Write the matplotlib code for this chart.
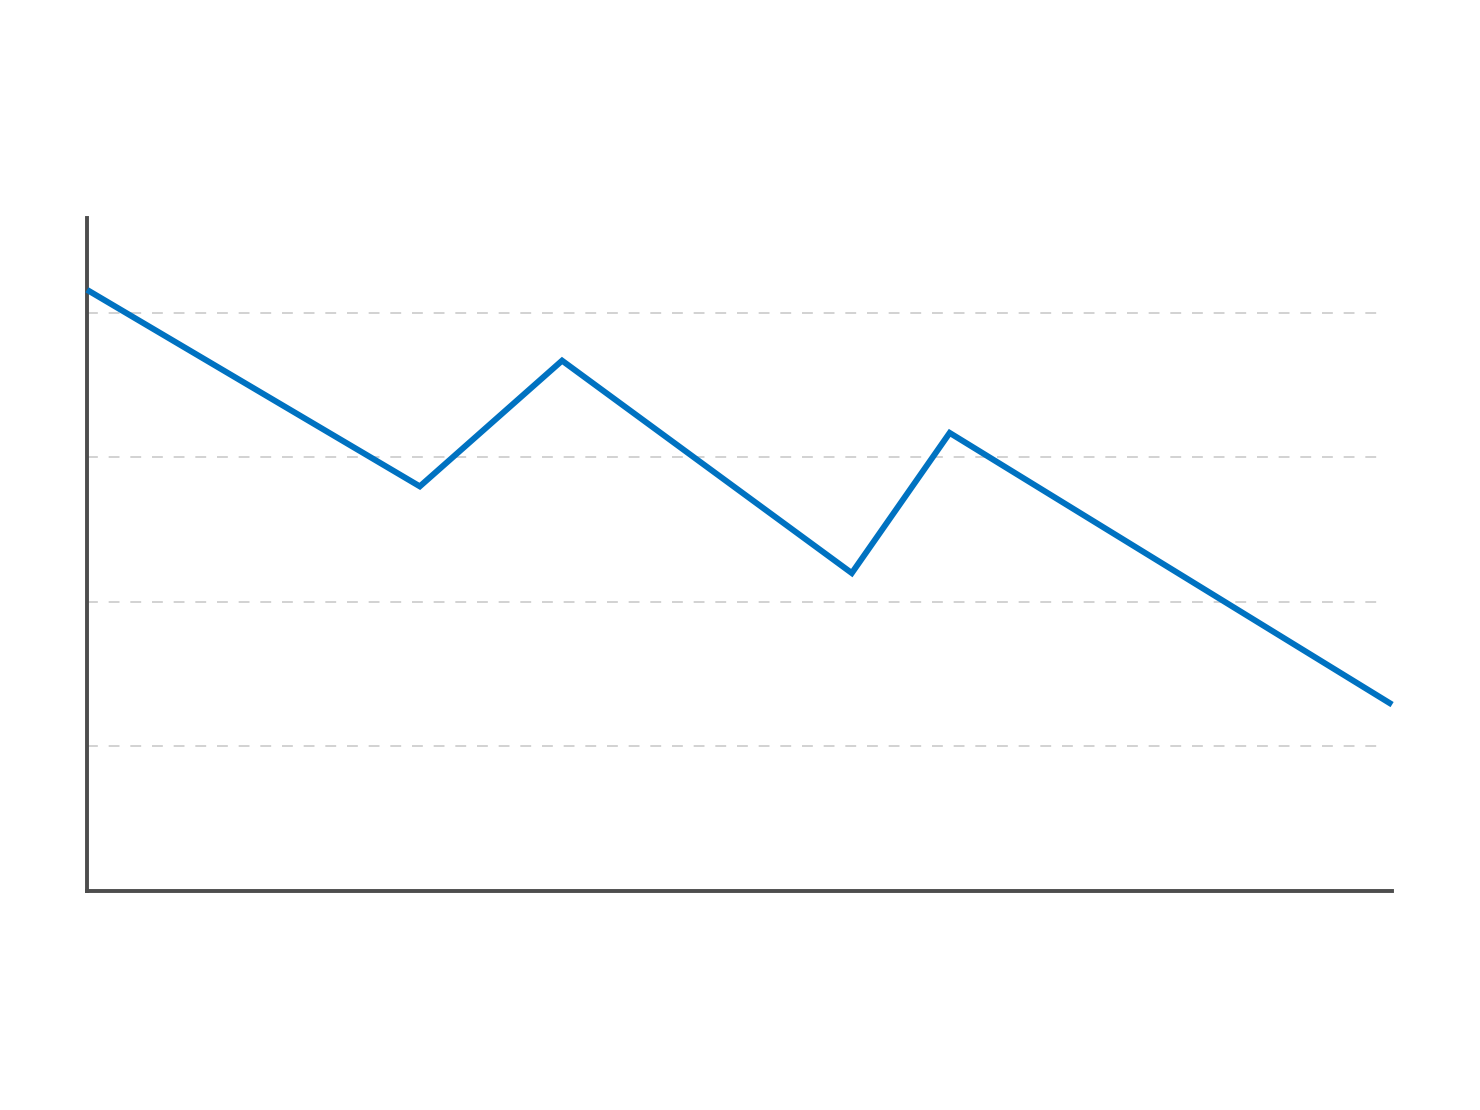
import matplotlib.pyplot as plt

# values
x_vals = [0, 25.5, 36.4, 58.6, 66.1, 100]
y_vals = [4.16, 2.80, 3.67, 2.20, 3.17, 1.29]
grid_levels = [1, 2, 3, 4]

fig = plt.figure(figsize=(14.8, 11.1), dpi=100)
ax = fig.add_axes([0.0588, 0.1973, 0.8818, 0.6063])

for g in grid_levels:
    ax.axhline(g, xmin=0, xmax=0.995, color='#cfcfcf', lw=1.3,
               dashes=(6, 6), zorder=1)

ax.plot(x_vals, y_vals, color='#0072C1', lw=4.3, zorder=3,
        solid_joinstyle='miter', solid_capstyle='butt', clip_on=False)

ax.set_xlim(0, 100)
ax.set_ylim(0, 4.657)

for side in ['top', 'right']:
    ax.spines[side].set_visible(False)
for side in ['left', 'bottom']:
    ax.spines[side].set_color('#4d4d4d')
    ax.spines[side].set_linewidth(2.8)

ax.set_xticks([])
ax.set_yticks([])

fig.savefig('out.png', dpi=100, facecolor='white')
